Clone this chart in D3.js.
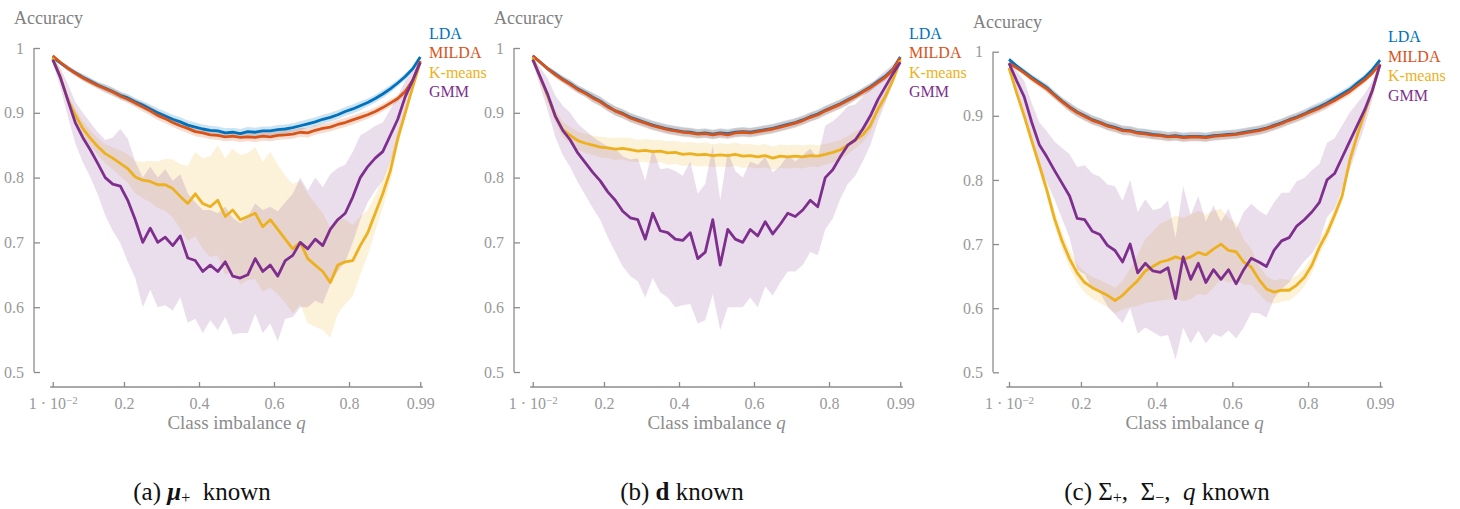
<!DOCTYPE html>
<html>
<head>
<meta charset="utf-8">
<script src="https://cdn.jsdelivr.net/npm/d3@7"></script>
<style>
  body { margin: 0; background: #fff; }
  svg { display: block; font-family: "Liberation Serif", "Times New Roman", serif; }
</style>
</head>
<body>
<div id="chart"></div>
<script>
// class imbalance grid
var q = [0.01,0.03,0.05,0.07,0.09,0.11,0.13,0.15,0.17,0.19,
  0.21,0.23,0.25,0.27,0.29,0.31,0.33,0.35,0.37,0.39,
  0.41,0.43,0.45,0.47,0.49,0.51,0.53,0.55,0.57,0.59,
  0.61,0.63,0.65,0.67,0.69,0.71,0.73,0.75,0.77,0.79,
  0.81,0.83,0.85,0.87,0.89,0.91,0.93,0.95,0.97,0.99];

var methods = ['LDA', 'MILDA', 'K-means', 'GMM'];
var yTicks = [0.5, 0.6, 0.7, 0.8, 0.9, 1];
var yTickLabels = ['0.5', '0.6', '0.7', '0.8', '0.9', '1'];
var xTicks = [0.01, 0.2, 0.4, 0.6, 0.8, 0.99];
var xTickLabels = ['1e-2', '0.2', '0.4', '0.6', '0.8', '0.99'];

// (a) mu+ known
var ldaA = [0.986,0.977,0.969,0.962,0.955,0.949,0.943,0.938,0.933,0.927,
  0.923,0.917,0.912,0.906,0.900,0.895,0.890,0.886,0.881,0.878,
  0.875,0.873,0.872,0.869,0.870,0.868,0.871,0.870,0.872,0.872,
  0.874,0.875,0.877,0.880,0.883,0.886,0.890,0.893,0.897,0.902,
  0.906,0.911,0.916,0.922,0.929,0.937,0.946,0.956,0.968,0.986];
var ldaSdA = [0.002,0.003,0.004,0.004,0.005,0.005,0.005,0.006,0.006,0.006,
  0.006,0.006,0.006,0.007,0.007,0.007,0.007,0.007,0.007,0.007,
  0.007,0.007,0.007,0.007,0.007,0.007,0.007,0.007,0.007,0.007,
  0.007,0.007,0.007,0.007,0.007,0.007,0.007,0.007,0.007,0.007,
  0.007,0.007,0.006,0.006,0.006,0.006,0.005,0.005,0.004,0.003];
var mildaA = [0.988,0.978,0.969,0.961,0.954,0.948,0.942,0.937,0.932,0.926,
  0.921,0.915,0.909,0.903,0.896,0.891,0.885,0.880,0.876,0.871,
  0.869,0.866,0.865,0.863,0.864,0.862,0.863,0.862,0.864,0.863,
  0.865,0.866,0.867,0.870,0.869,0.873,0.876,0.878,0.882,0.885,
  0.889,0.893,0.897,0.902,0.908,0.915,0.922,0.933,0.950,0.980];
var mildaSdA = [0.002,0.003,0.004,0.004,0.005,0.005,0.005,0.006,0.006,0.006,
  0.006,0.006,0.007,0.007,0.007,0.007,0.007,0.007,0.007,0.007,
  0.007,0.007,0.007,0.007,0.007,0.007,0.007,0.007,0.007,0.007,
  0.007,0.007,0.007,0.007,0.007,0.007,0.007,0.007,0.007,0.007,
  0.007,0.007,0.006,0.006,0.006,0.006,0.005,0.005,0.004,0.003];
var kmA = [0.985,0.956,0.920,0.897,0.876,0.861,0.848,0.837,0.830,0.822,
  0.814,0.801,0.796,0.794,0.789,0.789,0.783,0.771,0.760,0.775,
  0.760,0.755,0.765,0.740,0.750,0.735,0.740,0.745,0.724,0.735,
  0.720,0.705,0.690,0.700,0.675,0.665,0.655,0.638,0.665,0.670,
  0.672,0.695,0.715,0.745,0.775,0.810,0.860,0.900,0.940,0.978];
var kmSdA = [0.003,0.006,0.008,0.010,0.011,0.012,0.013,0.015,0.017,0.020,
  0.022,0.025,0.028,0.032,0.036,0.040,0.045,0.050,0.058,0.065,
  0.070,0.078,0.085,0.090,0.095,0.100,0.098,0.102,0.100,0.105,
  0.100,0.098,0.100,0.095,0.100,0.095,0.090,0.085,0.075,0.065,
  0.055,0.045,0.035,0.028,0.022,0.017,0.012,0.008,0.005,0.003];
var gmmA = [0.982,0.955,0.920,0.885,0.862,0.843,0.822,0.800,0.790,0.787,
  0.765,0.735,0.700,0.722,0.700,0.708,0.695,0.710,0.676,0.672,
  0.655,0.665,0.655,0.670,0.648,0.645,0.650,0.675,0.655,0.665,
  0.648,0.672,0.680,0.700,0.690,0.705,0.695,0.720,0.735,0.745,
  0.770,0.800,0.817,0.830,0.840,0.865,0.890,0.925,0.950,0.978];
var gmmSdA = [0.005,0.015,0.025,0.032,0.038,0.042,0.048,0.058,0.072,0.088,
  0.095,0.090,0.100,0.095,0.100,0.105,0.100,0.095,0.100,0.090,
  0.095,0.085,0.090,0.085,0.090,0.085,0.090,0.085,0.095,0.090,
  0.100,0.090,0.095,0.100,0.090,0.095,0.090,0.085,0.080,0.075,
  0.070,0.065,0.055,0.050,0.045,0.040,0.035,0.025,0.015,0.005];

// (b) d known
var ldaB = [0.988,0.978,0.968,0.960,0.952,0.945,0.937,0.931,0.924,0.918,
  0.910,0.903,0.899,0.893,0.889,0.885,0.881,0.878,0.875,0.873,
  0.871,0.870,0.868,0.869,0.867,0.869,0.868,0.870,0.871,0.870,
  0.872,0.874,0.876,0.879,0.882,0.885,0.889,0.894,0.898,0.904,
  0.909,0.914,0.920,0.926,0.933,0.940,0.948,0.956,0.967,0.986];
var ldaSdB = [0.002,0.003,0.004,0.005,0.005,0.006,0.006,0.006,0.007,0.007,
  0.007,0.007,0.007,0.007,0.007,0.007,0.007,0.007,0.007,0.007,
  0.007,0.007,0.007,0.007,0.007,0.007,0.007,0.007,0.007,0.007,
  0.007,0.007,0.007,0.007,0.007,0.007,0.007,0.007,0.007,0.007,
  0.007,0.007,0.007,0.006,0.006,0.006,0.005,0.005,0.004,0.003];
var mildaB = [0.988,0.978,0.968,0.959,0.951,0.944,0.936,0.930,0.923,0.917,
  0.909,0.903,0.898,0.892,0.888,0.884,0.880,0.877,0.874,0.872,
  0.870,0.869,0.867,0.868,0.866,0.868,0.866,0.869,0.870,0.869,
  0.871,0.873,0.875,0.878,0.881,0.884,0.888,0.893,0.897,0.903,
  0.908,0.913,0.919,0.925,0.932,0.939,0.947,0.955,0.966,0.985];
var mildaSdB = [0.002,0.003,0.004,0.005,0.005,0.006,0.006,0.006,0.007,0.007,
  0.007,0.007,0.007,0.007,0.007,0.007,0.007,0.007,0.007,0.007,
  0.007,0.007,0.007,0.007,0.007,0.007,0.007,0.007,0.007,0.007,
  0.007,0.007,0.007,0.007,0.007,0.007,0.007,0.007,0.007,0.007,
  0.007,0.007,0.007,0.006,0.006,0.006,0.005,0.005,0.004,0.003];
var kmB = [0.985,0.955,0.925,0.895,0.874,0.865,0.857,0.853,0.850,0.847,
  0.846,0.844,0.845,0.843,0.841,0.842,0.840,0.841,0.838,0.839,
  0.836,0.837,0.835,0.836,0.834,0.835,0.834,0.836,0.833,0.834,
  0.832,0.834,0.830,0.833,0.832,0.833,0.832,0.834,0.833,0.836,
  0.839,0.843,0.850,0.858,0.866,0.880,0.905,0.925,0.950,0.981];
var kmSdB = [0.003,0.006,0.008,0.010,0.012,0.013,0.014,0.015,0.015,0.016,
  0.016,0.017,0.017,0.018,0.017,0.018,0.018,0.017,0.018,0.018,
  0.018,0.018,0.018,0.018,0.018,0.018,0.018,0.018,0.018,0.018,
  0.018,0.018,0.018,0.018,0.018,0.018,0.018,0.017,0.017,0.016,
  0.016,0.015,0.014,0.013,0.012,0.011,0.010,0.008,0.006,0.003];
var gmmB = [0.982,0.955,0.928,0.895,0.873,0.858,0.838,0.823,0.808,0.795,
  0.778,0.765,0.748,0.738,0.735,0.705,0.745,0.718,0.715,0.705,
  0.703,0.715,0.675,0.685,0.735,0.665,0.720,0.705,0.700,0.720,
  0.710,0.732,0.713,0.728,0.745,0.740,0.750,0.765,0.755,0.800,
  0.812,0.832,0.850,0.858,0.875,0.895,0.920,0.940,0.960,0.978];
var gmmSdB = [0.005,0.015,0.025,0.032,0.038,0.042,0.045,0.050,0.055,0.060,
  0.070,0.080,0.085,0.090,0.095,0.090,0.100,0.095,0.100,0.105,
  0.100,0.110,0.100,0.105,0.115,0.100,0.120,0.105,0.100,0.105,
  0.110,0.100,0.095,0.090,0.090,0.085,0.085,0.080,0.075,0.080,
  0.075,0.065,0.060,0.055,0.050,0.045,0.035,0.025,0.015,0.005];

// (c) Sigma+, Sigma-, q known
var ldaC = [0.988,0.978,0.969,0.960,0.952,0.944,0.933,0.923,0.914,0.906,
  0.900,0.894,0.890,0.885,0.882,0.878,0.877,0.874,0.873,0.871,
  0.870,0.868,0.869,0.867,0.868,0.868,0.867,0.869,0.870,0.871,
  0.872,0.874,0.876,0.878,0.881,0.885,0.889,0.894,0.898,0.903,
  0.909,0.914,0.920,0.927,0.934,0.941,0.951,0.960,0.972,0.987];
var ldaSdC = [0.002,0.003,0.004,0.005,0.005,0.006,0.006,0.006,0.007,0.007,
  0.007,0.007,0.007,0.007,0.007,0.007,0.007,0.007,0.007,0.007,
  0.007,0.007,0.007,0.007,0.007,0.007,0.007,0.007,0.007,0.007,
  0.007,0.007,0.007,0.007,0.007,0.007,0.007,0.007,0.007,0.007,
  0.007,0.007,0.007,0.006,0.006,0.006,0.005,0.005,0.004,0.003];
var mildaC = [0.982,0.975,0.967,0.958,0.950,0.942,0.932,0.922,0.913,0.905,
  0.899,0.893,0.889,0.884,0.881,0.877,0.876,0.873,0.872,0.870,
  0.869,0.867,0.868,0.866,0.867,0.867,0.866,0.868,0.869,0.870,
  0.871,0.873,0.875,0.877,0.880,0.884,0.888,0.893,0.897,0.902,
  0.907,0.912,0.918,0.924,0.931,0.938,0.947,0.956,0.967,0.981];
var mildaSdC = [0.002,0.003,0.004,0.005,0.005,0.006,0.006,0.006,0.007,0.007,
  0.007,0.007,0.007,0.007,0.007,0.007,0.007,0.007,0.007,0.007,
  0.007,0.007,0.007,0.007,0.007,0.007,0.007,0.007,0.007,0.007,
  0.007,0.007,0.007,0.007,0.007,0.007,0.007,0.007,0.007,0.007,
  0.007,0.007,0.007,0.006,0.006,0.006,0.005,0.005,0.004,0.003];
var kmC = [0.975,0.936,0.900,0.861,0.823,0.784,0.740,0.705,0.677,0.655,
  0.640,0.632,0.626,0.620,0.612,0.620,0.632,0.643,0.658,0.665,
  0.672,0.675,0.680,0.676,0.680,0.687,0.683,0.692,0.700,0.690,
  0.688,0.672,0.664,0.645,0.630,0.625,0.628,0.628,0.636,0.648,
  0.667,0.695,0.717,0.745,0.775,0.830,0.870,0.905,0.940,0.980];
var kmSdC = [0.003,0.005,0.007,0.008,0.010,0.011,0.012,0.013,0.014,0.015,
  0.016,0.017,0.018,0.018,0.020,0.022,0.030,0.040,0.050,0.055,
  0.060,0.062,0.065,0.065,0.066,0.065,0.063,0.060,0.055,0.050,
  0.045,0.035,0.028,0.022,0.020,0.018,0.018,0.016,0.015,0.014,
  0.013,0.012,0.011,0.010,0.009,0.008,0.007,0.006,0.005,0.003];
var gmmC = [0.982,0.955,0.930,0.890,0.855,0.836,0.815,0.795,0.775,0.740,
  0.738,0.720,0.715,0.698,0.690,0.672,0.700,0.655,0.670,0.658,
  0.656,0.663,0.615,0.680,0.645,0.670,0.640,0.660,0.645,0.660,
  0.638,0.660,0.678,0.672,0.665,0.690,0.705,0.710,0.728,0.738,
  0.750,0.765,0.800,0.810,0.835,0.860,0.885,0.910,0.940,0.980];
var gmmSdC = [0.005,0.015,0.025,0.030,0.035,0.040,0.045,0.055,0.065,0.080,
  0.085,0.090,0.090,0.095,0.100,0.095,0.100,0.095,0.100,0.095,
  0.100,0.105,0.095,0.110,0.100,0.105,0.095,0.100,0.090,0.095,
  0.085,0.090,0.085,0.080,0.080,0.075,0.075,0.070,0.070,0.065,
  0.065,0.060,0.058,0.055,0.050,0.045,0.035,0.025,0.015,0.005];

var colors = ['#0072BD', '#D95319', '#EDB120', '#7E2F8E'];
var bandOpacity = [0.2, 0.2, 0.17, 0.16];
var axisColor = '#8c8c8c';

var panels = [
  { left: 34, top: 48, bottom: 372, x0: 52.75, x1: 420.25, axisY: 387, capX: 202,
    data: [[ldaA, ldaSdA], [mildaA, mildaSdA], [kmA, kmSdA], [gmmA, gmmSdA]] },
  { left: 514, top: 48, bottom: 372, x0: 532.75, x1: 900.25, axisY: 387, capX: 682,
    data: [[ldaB, ldaSdB], [mildaB, mildaSdB], [kmB, kmSdB], [gmmB, gmmSdB]] },
  { left: 993, top: 51.7, bottom: 372.3, x0: 1009, x1: 1380, axisY: 387, capX: 1167,
    data: [[ldaC, ldaSdC], [mildaC, mildaSdC], [kmC, kmSdC], [gmmC, gmmSdC]] }
];

var svg = d3.select('#chart').append('svg')
  .attr('width', 1460)
  .attr('height', 509);

panels.forEach(function (p, pi) {
  var x = d3.scaleLinear().domain([0.01, 0.99]).range([p.x0, p.x1]);
  var y = d3.scaleLinear().domain([0.5, 1]).range([p.bottom, p.top]);
  var g = svg.append('g');

  // bands
  p.data.forEach(function (s, i) {
    var area = d3.area()
      .x(function (d, j) { return x(q[j]); })
      .y0(function (d, j) { return y(s[0][j] - s[1][j]); })
      .y1(function (d, j) { return y(s[0][j] + s[1][j]); });
    g.append('path')
      .datum(s[0])
      .attr('d', area)
      .attr('fill', colors[i])
      .attr('fill-opacity', bandOpacity[i])
      .attr('stroke', 'none');
  });

  // mean lines
  p.data.forEach(function (s, i) {
    var line = d3.line()
      .x(function (d, j) { return x(q[j]); })
      .y(function (d) { return y(d); });
    g.append('path')
      .datum(s[0])
      .attr('d', line)
      .attr('fill', 'none')
      .attr('stroke', colors[i])
      .attr('stroke-width', 2.8)
      .attr('stroke-linejoin', 'round');
  });

  // y axis (ticks point inwards)
  var yAxis = d3.axisLeft(y)
    .tickValues(yTicks)
    .tickSize(-6)
    .tickPadding(10)
    .tickFormat(function (d, i) { return yTickLabels[i]; });
  var ya = g.append('g')
    .attr('transform', 'translate(' + p.left + ',0)')
    .call(yAxis);
  ya.select('.domain').attr('d', 'M0,' + p.top + 'V' + p.bottom);

  var xAxis = d3.axisBottom(x)
    .tickValues(xTicks)
    .tickSize(-5)
    .tickPadding(11)
    .tickFormat(function (d, i) { return xTickLabels[i]; });
  var xa = g.append('g')
    .attr('transform', 'translate(0,' + p.axisY + ')')
    .call(xAxis);
  xa.select('.domain').attr('d', 'M' + x(0.003) + ',0H' + x(0.997));

  [ya, xa].forEach(function (a) {
    a.select('.domain').attr('stroke', axisColor).attr('stroke-width', 1.3);
    a.selectAll('.tick line').attr('stroke', axisColor).attr('stroke-width', 1.3);
    a.selectAll('.tick text')
      .attr('fill', '#999')
      .style('font-family', '"Liberation Serif", serif')
      .style('font-size', '16px');
  });

  // 1 . 10^-2 label
  xa.selectAll('.tick text').filter(function (d, i) { return i === 0; })
    .text(null)
    .call(function (t) {
      t.append('tspan').text('1 \u00b7 10');
      t.append('tspan').attr('dy', '-0.45em').style('font-size', '11px').text('\u22122');
    });

  g.append('text')
    .attr('x', p.left - 20)
    .attr('y', p.top - 24)
    .attr('fill', '#808080')
    .style('font-size', '18px')
    .text('Accuracy');

  var xl = g.append('text')
    .attr('x', (p.x0 + p.x1) / 2)
    .attr('y', p.axisY + 42)
    .attr('text-anchor', 'middle')
    .attr('fill', '#8c8c8c')
    .style('font-size', '19px');
  xl.append('tspan').text('Class imbalance ');
  xl.append('tspan').style('font-style', 'italic').text('q');

  // legend
  methods.forEach(function (m, i) {
    g.append('text')
      .attr('x', p.left + 395)
      .attr('y', p.top - 9.5 + i * 19.6)
      .attr('fill', colors[i])
      .style('font-size', '16px')
      .text(m);
  });

  // caption
  var cap = svg.append('text')
    .attr('x', p.capX)
    .attr('y', 500)
    .attr('text-anchor', 'middle')
    .attr('fill', '#111')
    .style('font-size', '25px');
  if (pi === 0) {
    cap.append('tspan').text('(a) ');
    cap.append('tspan').style('font-weight', 'bold').style('font-style', 'italic').text('\u03bc');
    cap.append('tspan').attr('dy', 3).style('font-size', '16px').text('+');
    cap.append('tspan').attr('dy', -3).text('\u2002known');
  } else if (pi === 1) {
    cap.append('tspan').text('(b) ');
    cap.append('tspan').style('font-weight', 'bold').text('d');
    cap.append('tspan').text(' known');
  } else {
    cap.append('tspan').text('(c) \u03a3');
    cap.append('tspan').attr('dy', 3).style('font-size', '16px').text('+');
    cap.append('tspan').attr('dy', -3).text(',\u2002\u03a3');
    cap.append('tspan').attr('dy', 3).style('font-size', '16px').text('\u2212');
    cap.append('tspan').attr('dy', -3).text(',\u2002');
    cap.append('tspan').style('font-style', 'italic').text('q');
    cap.append('tspan').text(' known');
  }
});
</script>
</body>
</html>
